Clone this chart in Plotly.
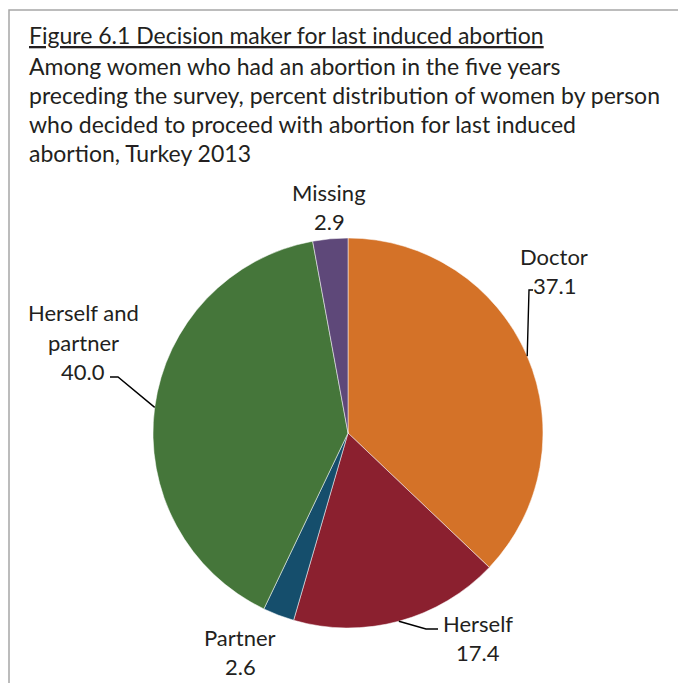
import math
import plotly.graph_objects as go

# Decision maker for last induced abortion, Turkey 2013 (percent)
categories = ["Doctor", "Herself", "Partner", "Herself and partner", "Missing"]
label_lines = [["Doctor"], ["Herself"], ["Partner"], ["Herself and", "partner"], ["Missing"]]
values = [37.1, 17.4, 2.6, 40.0, 2.9]
colors = ["#D47228", "#8B202F", "#154E6C", "#45763A", "#5E4879"]

title_lines = [
    "Figure 6.1 Decision maker for last induced abortion",
    "Among women who had an abortion in the five years",
    "preceding the survey, percent distribution of women by person",
    "who decided to proceed with abortion for last induced",
    "abortion, Turkey 2013",
]

W, H = 678, 683
CX, CY, R = 348, 433, 195
FONT = "Lato"
TXT = "#231F20"


def px(x):
    return x / W


def py(y):
    return 1 - y / H


fig = go.Figure(
    go.Pie(
        labels=categories,
        values=values,
        sort=False,
        direction="clockwise",
        rotation=0,
        marker=dict(colors=colors, line=dict(color="white", width=0.5)),
        textinfo="none",
        hoverinfo="label+value",
        showlegend=False,
        domain=dict(x=[px(CX - R), px(CX + R)], y=[py(CY + R), py(CY - R)]),
    )
)

shapes = []
annotations = []

# frame around the figure
shapes.append(dict(type="path", xref="paper", yref="paper",
                   path=f"M {px(9)},{py(H + 5)} L {px(9)},{py(10)} L {px(W + 5)},{py(10)}",
                   line=dict(color="#A6A6A6", width=1.5)))

# heading
title_y = [35, 66, 95, 124, 153]
for i, (line, y) in enumerate(zip(title_lines, title_y)):
    font = dict(family=FONT, size=23, color=TXT)
    if i == 0:
        font["lineposition"] = "under"
    annotations.append(dict(text=line, x=px(27), y=py(y), xref="paper", yref="paper",
                            xanchor="left", yanchor="middle", showarrow=False, font=font))

# slice mid-angle edge points (clockwise from 12 o'clock)
total = sum(values)
edge = []
cum = 0.0
for v in values:
    mid = (cum + v / 2) / total * 2 * math.pi
    edge.append((CX + R * math.sin(mid), CY - R * math.cos(mid)))
    cum += v

# label placement: (center x, first line center y)
label_pos = {
    "Doctor": (554, 257),
    "Herself": (478, 623),
    "Partner": (240, 637),
    "Herself and partner": (83, 313),
    "Missing": (329, 193),
}
LINE = 29
for cat, lines, v in zip(categories, label_lines, values):
    x0, y0 = label_pos[cat]
    rows = lines + [f"{v:.1f}"]
    for j, row in enumerate(rows):
        annotations.append(dict(text=row, x=px(x0), y=py(y0 + j * LINE), xref="paper", yref="paper",
                                xanchor="center", yanchor="middle", showarrow=False,
                                font=dict(family=FONT, size=22, color=TXT)))

# leader lines from slice edges to labels
leaders = {
    "Doctor": [(529, 290), (533, 290)],
    "Herself": [(426, 629), (438, 629)],
    "Herself and partner": [(118, 377), (110, 377)],
}
for i, cat in enumerate(categories):
    if cat in leaders:
        pts = [edge[i]] + leaders[cat]
        path = "M " + " L ".join(f"{px(x)},{py(y)}" for x, y in pts)
        shapes.append(dict(type="path", xref="paper", yref="paper", path=path,
                           line=dict(color="#000000", width=1.4)))

fig.update_layout(
    width=W, height=H,
    margin=dict(l=0, r=0, t=0, b=0),
    paper_bgcolor="white", plot_bgcolor="white",
    shapes=shapes, annotations=annotations,
)

fig.write_html("out.html")
